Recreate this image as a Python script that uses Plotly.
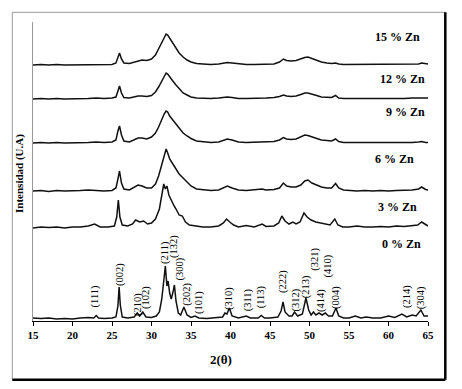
import plotly.graph_objects as go

# ---------------- data ----------------
x_0 = [15, 16, 17, 18, 19, 20, 21, 22, 22.7, 23.0, 23.3, 24, 25, 25.5, 25.75, 25.9, 26.05, 26.3,
       27, 27.8, 28.2, 28.5, 28.9, 29.3, 30, 30.6, 31.0, 31.3, 31.55, 31.75, 31.95, 32.1, 32.3,
       32.5, 32.75, 32.9, 33.1, 33.4, 33.7, 34.1, 34.5, 35, 35.5, 36, 37, 38, 39, 39.3, 39.55,
       39.85, 40.2, 41, 42, 42.5, 43.5, 43.9, 44.3, 45, 46, 46.4, 46.65, 46.9, 47.4, 47.8, 48.1,
       48.5, 49.1, 49.55, 49.9, 50.2, 50.5, 50.8, 51.2, 51.6, 52.0, 52.4, 52.9, 53.35, 53.7,
       54.3, 55, 55.8, 56.5, 57.2, 58, 59, 60, 60.8, 61.7, 62.3, 63.0, 63.5, 64.1, 64.5, 65]
zn_0 = [3, 2.5, 3, 2, 2.5, 2, 3, 3.5, 3, 5.5, 3, 2.5, 3, 4, 15, 34, 16, 4,
        3, 4, 8, 5, 9, 4, 3.5, 5, 9, 22, 40, 55, 35, 40, 28,
        22, 30, 36, 20, 8, 6, 14, 6, 3.5, 5, 3, 2.5, 3, 4, 8, 7,
        13, 5, 3, 5, 3, 3, 5.5, 3, 3, 4, 10, 19, 9, 5, 5, 9,
        5, 7, 23, 11, 6, 9, 6, 8, 6, 8, 5, 5, 13, 5,
        3, 3, 5, 3, 4, 3, 3, 5, 3.5, 7, 4, 6, 5, 11, 5, 5]

x_3 = [15, 16, 17, 18, 19, 20, 21, 22, 22.8, 23.5, 24.5, 25.3, 25.6, 25.8, 26.0, 26.3, 27, 27.6,
       28.0, 28.5, 29.0, 29.5, 30, 30.5, 31.0, 31.3, 31.55, 31.75, 31.95, 32.2, 32.5, 32.8, 33.1,
       33.5, 33.9, 34.3, 34.8, 35.5, 36.5, 37.5, 38.5, 39.1, 39.5, 39.9, 40.4, 41, 42, 43, 44,
       44.5, 45.5, 46.1, 46.5, 46.9, 47.4, 47.9, 48.3, 48.8, 49.3, 49.7, 50.2, 50.8, 51.4, 52,
       52.6, 53.2, 53.6, 54.2, 55, 56, 57, 58, 59, 60, 61, 62, 63, 63.7, 64.2, 64.7, 65]
zn_3 = [93, 94, 93.5, 94, 93, 94, 94, 95, 97, 94, 94, 95, 104, 121, 104, 96, 95, 97,
        101, 99, 100, 97, 98, 102, 112, 125, 137, 132, 135, 126, 120, 116, 112,
        106, 105, 99, 96, 95, 94, 94, 95, 98, 102, 99, 96, 94, 95.5, 94, 97,
        94.5, 95, 98, 105, 100, 97, 99, 97, 99, 108, 104, 101, 99, 98, 97,
        96, 102, 96, 94, 94, 95, 94, 94, 94.5, 94, 95, 94.5, 95, 96, 99, 96, 95]

x_hi = [15, 16, 17, 18, 19, 20, 21, 22, 23, 24, 25,
        25.5, 25.75, 25.95, 26.2, 26.5,
        27.2, 27.8, 28.3, 28.8, 29.4,
        30, 30.5, 30.9, 31.3, 31.6,
        31.85, 32.05, 32.3, 32.7, 33.1,
        33.5, 34, 34.5, 35, 35.7,
        36.5, 37.5, 38.5, 39.1, 39.6,
        40.2, 41, 42, 43, 44,
        44.5, 45.5, 46.2, 46.7, 47.1,
        47.7, 48.3, 48.9, 49.4, 49.8,
        50.3, 50.9, 51.5, 52.2, 52.8,
        53.3, 53.7, 54.3, 55, 56,
        57, 58, 59, 60, 61,
        62, 63, 63.8, 64.2, 64.7,
        65]
zn_6 = [130, 130.5, 129.5, 130.5, 130, 130, 130.5, 131, 130.5, 130, 130.5,
        133, 142, 150, 138, 132,
        131, 134, 136, 135, 133,
        133, 137, 145, 156, 166,
        172, 168, 162, 157, 152,
        147, 143, 139, 135, 132,
        131, 130.5, 131, 133, 135,
        133, 131, 130.5, 131, 132,
        131, 131.5, 133, 138, 135,
        134, 134, 136, 140, 141,
        138, 136, 134, 133, 133,
        137.5, 133, 131, 130.5, 130,
        130.5, 130, 130.5, 130, 130.5,
        130.5, 131, 132, 134, 131.5,
        131]
zn_9 = [178, 178.5, 178, 178.5, 178, 178, 178.5, 178.5, 179, 178.5, 179,
        181, 190, 195, 186, 180,
        179, 181, 183, 183, 182,
        184, 188, 194, 202, 207,
        210, 209, 205, 201, 196,
        192, 188, 185, 182.5, 180,
        179, 178.5, 179, 181, 182,
        181, 179, 178.5, 179, 179,
        179, 179.5, 181, 183.5, 182,
        181.5, 182, 184, 186, 185.5,
        184, 183, 181, 180.5, 180,
        182, 179.5, 178.5, 178.5, 178,
        178.5, 178, 178.5, 178.5, 178,
        178.5, 178.5, 179, 179.5, 178.5,
        178.5]
zn_12 = [222, 222.5, 222, 222.5, 222, 222, 222.5, 222.5, 223, 222.5, 223,
         224, 230, 235, 228, 223.5,
         223, 224, 225, 225, 224.5,
         225.5, 229, 234, 240, 245,
         248, 247, 244, 240, 236,
         232, 228, 226, 224, 223,
         222.5, 222.5, 223, 223.5, 224,
         223.5, 222.5, 222.5, 222.5, 223,
         223, 223.5, 224.5, 226, 225,
         224.5, 225, 226.5, 228, 228,
         226.5, 225.5, 224, 223.5, 223.5,
         225.5, 223, 222.5, 222.5, 222,
         222.5, 222.5, 222, 222.5, 222.5,
         222.5, 223, 223, 223.5, 223,
         223]
zn_15 = [256, 256.5, 256, 256.5, 256, 256, 256.5, 256.5, 256.5, 256, 256.5,
         258, 264, 268, 262, 258,
         257.5, 259, 260, 261, 260.5,
         262, 266, 272, 279, 284,
         287, 286, 283, 278, 273,
         268, 264, 261, 259, 257.5,
         257, 256.5, 257, 257.5, 258.5,
         258, 257, 256.5, 256.5, 256.5,
         256.5, 257, 259, 262, 260.5,
         260, 260.5, 262.5, 263.5, 264,
         262.5, 260.5, 259, 258, 257.5,
         258, 257, 256.5, 256.5, 256.5,
         256.5, 256.5, 256.5, 257, 256.5,
         257, 257, 257, 258, 257.5,
         257]

series_names = ["0 % Zn", "3 % Zn", "6 % Zn", "9 % Zn", "12 % Zn", "15 % Zn"]
series_label_x = [61.6, 61.1, 60.8, 62.2, 61.8, 61.2]
series_label_y = [77, 114, 162, 209, 242, 284]

hkl_labels = ["(111)", "(002)", "(210)", "(102)", "(211)", "(132)", "(300)", "(202)", "(101)",
              "(310)", "(311)", "(113)", "(222)", "(312)", "(213)", "(321)", "(414)", "(410)",
              "(004)", "(214)", "(304)"]
hkl_x = [22.9, 26.0, 28.3, 29.3, 31.7, 32.85, 33.55, 34.45, 36.0, 39.8, 42.25, 43.9, 46.65,
         48.35, 49.6, 50.65, 51.45, 52.4, 53.35, 62.35, 64.15]
hkl_y = [25, 47, 16, 24, 69, 74, 52, 27, 19, 23, 21, 24, 39, 21, 34, 62, 21, 55, 24, 24, 23]

x_ticks = [15, 20, 25, 30, 35, 40, 45, 50, 55, 60, 65]

# ---------------- figure ----------------
SERIF = "Liberation Serif, Times New Roman, serif"
fig = go.Figure()
all_x = [x_0, x_3, x_hi, x_hi, x_hi, x_hi]
all_y = [zn_0, zn_3, zn_6, zn_9, zn_12, zn_15]
for xs, ys, nm in zip(all_x, all_y, series_names):
    fig.add_trace(go.Scatter(x=xs, y=ys, mode="lines", name=nm,
                             line=dict(color="#111111", width=1.5), showlegend=False))

ann = []
for t, x, y in zip(series_names, series_label_x, series_label_y):
    ann.append(dict(x=x, y=y, xref="x", yref="y", text=t, showarrow=False,
                    xanchor="center", yanchor="middle",
                    font=dict(family=SERIF, size=12, color="black", weight="bold")))
for t, x, y in zip(hkl_labels, hkl_x, hkl_y):
    ann.append(dict(x=x, y=y, xref="x", yref="y", text=t, showarrow=False, textangle=-90,
                    xanchor="center", yanchor="middle",
                    font=dict(family=SERIF, size=10.5, color="black")))
ann.append(dict(x=0.476, y=-0.130, xref="paper", yref="paper", text="2(θ)", showarrow=False,
                xanchor="center", yanchor="middle",
                font=dict(family=SERIF, size=13, color="black", weight="bold")))
ann.append(dict(x=-0.033, y=0.495, xref="paper", yref="paper", text="Intensidad (U.A)",
                showarrow=False, textangle=-90, xanchor="center", yanchor="middle",
                font=dict(family=SERIF, size=11, color="black", weight="bold")))

L, R, T, B = -0.0524, 1.0438, 1.0324, -0.1967
shapes = [
    dict(type="line", xref="paper", yref="paper", x0=L, x1=L, y0=B, y1=T,
         line=dict(color="#9a9a9a", width=1)),
    dict(type="line", xref="paper", yref="paper", x0=L, x1=R, y0=T, y1=T,
         line=dict(color="#9a9a9a", width=1)),
    dict(type="line", xref="paper", yref="paper", x0=R, x1=R, y0=B, y1=T,
         line=dict(color="black", width=2.5)),
    dict(type="line", xref="paper", yref="paper", x0=L, x1=R, y0=B, y1=B,
         line=dict(color="black", width=2.5)),
]

fig.update_layout(
    width=462, height=389,
    margin=dict(l=33, r=34, t=22, b=68),
    paper_bgcolor="white", plot_bgcolor="white",
    annotations=ann, shapes=shapes,
    xaxis=dict(range=[15, 65], tickvals=x_ticks, ticks="outside", ticklen=4,
               tickcolor="black", showline=True, linecolor="black", linewidth=1,
               showgrid=False, zeroline=False,
               tickfont=dict(family=SERIF, size=11, color="black", weight="bold")),
    yaxis=dict(range=[0, 299], showticklabels=False, ticks="", showline=True,
               linecolor="#9a9a9a", linewidth=1, showgrid=False, zeroline=False),
)
fig.write_html("out.html", config={"displayModeBar": False},
               post_script="document.body.style.margin='0';document.body.style.overflow='hidden';")
